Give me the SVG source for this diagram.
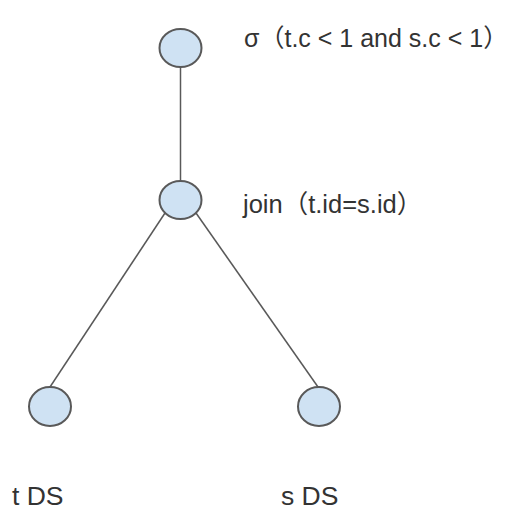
<svg xmlns="http://www.w3.org/2000/svg" width="511" height="511" viewBox="0 0 511 511">
<style>
.node{fill:#cfe2f3;stroke:#595959;stroke-width:2}
.edge{stroke:#595959;stroke-width:1.5;fill:none}
.lbl{font-family:"Liberation Sans","Noto Sans CJK SC",sans-serif;font-size:25.5px;fill:#333333}
.sel{font-size:25px}
.big{font-size:26.5px}
</style>
<rect width="511" height="511" fill="#ffffff"/>
<g id="connectors">
<line class="edge" x1="180.5" y1="66" x2="180.5" y2="181"/>
<line class="edge" x1="165" y1="213" x2="50" y2="387"/>
<line class="edge" x1="196" y1="213" x2="318" y2="387"/>
</g>
<g id="n-select">
<ellipse class="node" cx="180.5" cy="48" rx="21" ry="19"/>
<text class="lbl sel" x="244" y="47">σ（t.c &lt; 1 and s.c &lt; 1）</text>
</g>
<g id="n-join">
<ellipse class="node" cx="180.5" cy="200" rx="21" ry="19"/>
<text class="lbl" x="243" y="212.5">join（t.id=s.id）</text>
</g>
<g id="n-t">
<ellipse class="node" cx="50" cy="406.5" rx="21" ry="19.5"/>
<text class="lbl big" x="12" y="505">t DS</text>
</g>
<g id="n-s">
<ellipse class="node" cx="319" cy="406.5" rx="21" ry="19.5"/>
<text class="lbl big" x="281" y="505">s DS</text>
</g>
</svg>
